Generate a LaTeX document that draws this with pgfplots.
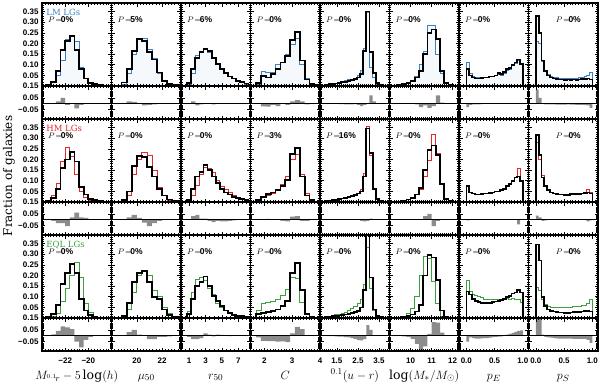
\documentclass[border=0pt]{standalone}
\usepackage{fontspec}
\setmainfont{DejaVu Serif}
\newfontfamily\tickfamily{Liberation Sans}
\usepackage{pgfplots}
\pgfplotsset{compat=1.18}
\usepackage{pgfplotstable}

\definecolor{lmblue}{RGB}{60,130,200}
\definecolor{hmred}{RGB}{230,40,40}
\definecolor{eqlgreen}{RGB}{60,160,60}
\definecolor{resgray}{RGB}{140,140,140}

\newcommand\tickfont{\tickfamily\bfseries\fontsize{8}{9}\selectfont}
\newcommand\lgfont{\fontsize{8.5}{9}\selectfont}
\newcommand\plabel[1]{{\fontsize{8.5}{9}\selectfont$P\!=\!${\tickfamily\bfseries #1\%}}}
\def\plx{0.086}

% columns: x b1 c1 r1 b2 c2 r2 b3 c3 r3  (b = black, c = coloured LG sample, r = residual)
\pgfplotstableread{
x b1 c1 r1 b2 c2 r2 b3 c3 r3
-23.6 0 0 0 0 0 0 0 0 0
-23.6 0.005 0.005 0 0.005 0.005 0 0.005 0.002 0.003
-23.2 0.02 0.015 0.005 0.02 0.03 -0.01 0.02 0.008 0.012
-22.8 0.07 0.05 0.02 0.06 0.09 -0.03 0.06 0.02 0.04
-22.4 0.17 0.12 0.05 0.16 0.19 -0.03 0.16 0.08 0.08
-22.0 0.21 0.22 -0.01 0.20 0.255 -0.055 0.21 0.14 0.07
-21.6 0.235 0.235 0 0.235 0.215 0.02 0.255 0.20 0.055
-21.2 0.17 0.21 -0.04 0.19 0.13 0.06 0.21 0.26 -0.05
-20.8 0.08 0.09 -0.01 0.07 0.05 0.02 0.09 0.19 -0.10
-20.4 0.035 0.035 0 0.035 0.02 0.015 0.035 0.07 -0.035
-20.0 0.015 0.012 0.003 0.015 0.01 0.005 0.015 0.025 -0.01
-19.6 0.008 0.006 0.002 0.008 0.005 0.003 0.006 0.008 -0.002
-19.2 0.004 0.003 0.001 0.004 0.002 0.002 0.003 0.003 0
-18.8 0 0 0 0 0 0 0 0 0
}\tabA
\pgfplotstableread{
x b1 c1 r1 b2 c2 r2 b3 c3 r3
18.8 0 0 0 0 0 0 0 0 0
18.8 0.016 0.01 0.006 0.01 0.005 0.005 0.01 0.005 0.005
19.2 0.08 0.06 0.02 0.05 0.03 0.02 0.07 0.04 0.03
19.6 0.165 0.15 0.015 0.17 0.13 0.04 0.17 0.12 0.05
20.0 0.22 0.22 0 0.215 0.2 0.015 0.21 0.20 0.01
20.4 0.21 0.225 -0.015 0.21 0.235 -0.025 0.22 0.22 0
20.8 0.16 0.17 -0.01 0.165 0.22 -0.055 0.17 0.20 -0.03
21.2 0.125 0.13 -0.005 0.12 0.15 -0.03 0.10 0.13 -0.03
21.6 0.063 0.06 0.003 0.06 0.07 -0.01 0.09 0.10 -0.01
22.0 0.025 0.025 0 0.03 0.03 0 0.04 0.05 -0.01
22.4 0.011 0.01 0.001 0.012 0.01 0.002 0.015 0.02 -0.005
22.8 0.005 0.004 0.001 0.005 0.004 0.001 0.005 0.006 -0.001
23.2 0 0 0 0 0 0 0 0 0
}\tabB
\pgfplotstableread{
x b1 c1 r1 b2 c2 r2 b3 c3 r3
0.75 0 0 0 0 0 0 0 0 0
0.75 0.015 0.01 0.005 0.01 0.005 0.005 0.02 0.03 -0.01
1.25 0.08 0.06 0.02 0.06 0.03 0.03 0.09 0.12 -0.03
1.75 0.13 0.145 -0.015 0.12 0.08 0.04 0.15 0.18 -0.03
2.25 0.16 0.165 -0.005 0.14 0.13 0.01 0.17 0.19 -0.02
2.75 0.175 0.17 0.005 0.175 0.165 0.01 0.195 0.175 0.02
3.25 0.165 0.16 0.005 0.15 0.16 -0.01 0.15 0.14 0.01
3.75 0.13 0.135 -0.005 0.12 0.14 -0.02 0.105 0.11 -0.005
4.25 0.105 0.105 0 0.09 0.10 -0.01 0.08 0.07 0.01
4.75 0.08 0.08 0 0.06 0.075 -0.015 0.057 0.05 0.007
5.25 0.06 0.06 0 0.045 0.06 -0.015 0.035 0.035 0
5.75 0.045 0.045 0 0.035 0.045 -0.01 0.022 0.025 -0.003
6.25 0.035 0.035 0 0.025 0.03 -0.005 0.015 0.015 0
6.75 0.025 0.022 0.003 0.02 0.02 0 0.01 0.01 0
7.25 0.018 0.015 0.003 0.013 0.012 0.001 0.008 0.008 0
7.75 0.012 0.01 0.002 0.008 0.008 0 0.005 0.004 0.001
8.25 0 0 0 0 0 0 0 0 0
}\tabC
\pgfplotstableread{
x b1 c1 r1 b2 c2 r2 b3 c3 r3
1.7 0 0 0 0 0 0 0 0 0
1.7 0.015 0.01 0.005 0.01 0.008 0.002 0.02 0.035 -0.015
1.875 0.048 0.07 -0.022 0.025 0.02 0.005 0.025 0.07 -0.045
2.05 0.04 0.065 -0.025 0.036 0.03 0.006 0.028 0.075 -0.047
2.225 0.055 0.065 -0.01 0.045 0.04 0.005 0.033 0.08 -0.047
2.4 0.08 0.1 -0.02 0.055 0.055 0 0.04 0.09 -0.05
2.575 0.11 0.11 0 0.075 0.085 -0.01 0.057 0.105 -0.048
2.75 0.14 0.15 -0.01 0.105 0.12 -0.015 0.08 0.135 -0.055
2.925 0.215 0.195 0.02 0.225 0.2 0.025 0.21 0.19 0.02
3.1 0.255 0.225 0.03 0.255 0.225 0.03 0.26 0.185 0.075
3.275 0.12 0.1 0.02 0.12 0.13 -0.01 0.13 0.075 0.055
3.45 0.03 0.035 -0.005 0.03 0.04 -0.01 0.02 0.015 0.005
3.625 0.01 0.01 0 0.008 0.01 -0.002 0.005 0.005 0
3.8 0.004 0.004 0 0.003 0.003 0 0.002 0.002 0
3.975 0 0 0 0 0 0 0 0 0
}\tabD
\pgfplotstableread{
x b1 c1 r1 b2 c2 r2 b3 c3 r3
0.8 0 0 0 0 0 0 0 0 0
0.8 0.003 0.003 0 0.003 0.003 0 0.002 0.003 -0.001
0.95 0.006 0.005 0.001 0.005 0.005 0 0.004 0.006 -0.002
1.1 0.008 0.008 0 0.007 0.007 0 0.006 0.009 -0.003
1.25 0.01 0.012 -0.002 0.009 0.009 0 0.008 0.012 -0.004
1.4 0.012 0.014 -0.002 0.011 0.012 -0.001 0.01 0.015 -0.005
1.55 0.015 0.018 -0.003 0.014 0.015 -0.001 0.012 0.019 -0.007
1.7 0.018 0.022 -0.004 0.017 0.018 -0.001 0.014 0.023 -0.009
1.85 0.02 0.026 -0.006 0.02 0.021 -0.001 0.016 0.028 -0.012
2.0 0.024 0.03 -0.006 0.024 0.025 -0.001 0.02 0.035 -0.015
2.15 0.028 0.033 -0.005 0.028 0.029 -0.001 0.024 0.045 -0.021
2.3 0.032 0.036 -0.004 0.032 0.033 -0.001 0.028 0.055 -0.027
2.45 0.04 0.05 -0.01 0.04 0.042 -0.002 0.033 0.07 -0.037
2.6 0.055 0.075 -0.02 0.05 0.06 -0.01 0.05 0.09 -0.04
2.75 0.165 0.175 -0.01 0.12 0.135 -0.015 0.13 0.16 -0.03
2.9 0.35 0.345 0.005 0.345 0.355 -0.01 0.42 0.33 0.09
3.05 0.16 0.09 0.07 0.23 0.22 0.01 0.19 0.14 0.05
3.2 0.06 0.04 0.02 0.06 0.06 0 0.04 0.035 0.005
3.35 0.015 0.01 0.005 0.015 0.015 0 0.01 0.008 0.002
3.5 0.005 0.004 0.001 0.005 0.004 0.001 0.004 0.003 0.001
3.65 0.002 0.002 0 0.002 0.002 0 0.002 0.001 0.001
3.8 0 0 0 0 0 0 0 0 0
}\tabE
\pgfplotstableread{
x b1 c1 r1 b2 c2 r2 b3 c3 r3
9.4 0 0 0 0 0 0 0 0 0
9.4 0.004 0.004 0 0.003 0.003 0 0.002 0.004 -0.002
9.6 0.008 0.008 0 0.007 0.007 0 0.005 0.01 -0.005
9.8 0.015 0.015 0 0.012 0.012 0 0.01 0.02 -0.01
10.0 0.025 0.025 0 0.02 0.02 0 0.017 0.045 -0.028
10.2 0.04 0.045 -0.005 0.035 0.035 0 0.03 0.1 -0.07
10.4 0.07 0.1 -0.03 0.065 0.06 0.005 0.06 0.2 -0.14
10.6 0.15 0.165 -0.015 0.15 0.12 0.03 0.2 0.29 -0.09
10.8 0.25 0.285 -0.035 0.245 0.195 0.05 0.295 0.28 0.015
11.0 0.265 0.285 -0.02 0.265 0.32 -0.055 0.285 0.17 0.115
11.2 0.22 0.15 0.07 0.22 0.23 -0.01 0.18 0.07 0.11
11.4 0.07 0.06 0.01 0.085 0.085 0 0.035 0.01 0.025
11.6 0.015 0.012 0.003 0.015 0.015 0 0.006 0.002 0.004
11.8 0.004 0.003 0.001 0.004 0.003 0.001 0.002 0.001 0.001
12.0 0 0 0 0 0 0 0 0 0
}\tabF
\pgfplotstableread{
x b1 c1 r1 b2 c2 r2 b3 c3 r3
0 0 0 0 0 0 0 0 0 0
0 0.08 0.11 -0.03 0.075 0.08 -0.005 0.125 0.175 -0.05
0.05 0.05 0.06 -0.01 0.045 0.045 0 0.11 0.125 -0.015
0.1 0.04 0.045 -0.005 0.04 0.04 0 0.09 0.11 -0.02
0.15 0.035 0.04 -0.005 0.035 0.035 0 0.08 0.105 -0.025
0.2 0.035 0.04 -0.005 0.035 0.037 -0.002 0.075 0.1 -0.025
0.25 0.037 0.04 -0.003 0.037 0.037 0 0.072 0.095 -0.023
0.3 0.04 0.042 -0.002 0.04 0.04 0 0.07 0.09 -0.02
0.35 0.04 0.042 -0.002 0.04 0.04 0 0.07 0.09 -0.02
0.4 0.045 0.045 0 0.042 0.042 0 0.072 0.088 -0.016
0.45 0.045 0.045 0 0.045 0.045 0 0.075 0.088 -0.013
0.5 0.05 0.048 0.002 0.05 0.048 0.002 0.078 0.088 -0.01
0.55 0.06 0.055 0.005 0.05 0.05 0 0.08 0.088 -0.008
0.6 0.055 0.05 0.005 0.055 0.055 0 0.085 0.09 -0.005
0.65 0.065 0.06 0.005 0.06 0.06 0 0.09 0.09 0
0.7 0.08 0.075 0.005 0.075 0.072 0.003 0.1 0.092 0.008
0.75 0.085 0.08 0.005 0.085 0.085 0 0.105 0.09 0.015
0.8 0.1 0.095 0.005 0.1 0.1 0 0.115 0.092 0.023
0.85 0.11 0.105 0.005 0.115 0.115 0 0.12 0.088 0.032
0.9 0.125 0.12 0.005 0.12 0.16 -0.04 0.13 0.09 0.04
0.95 0.105 0.1 0.005 0.1 0.1 0 0.12 0.075 0.045
1.0 0 0 0 0 0 0 0 0 0
}\tabG
\pgfplotstableread{
x b1 c1 r1 b2 c2 r2 b3 c3 r3
0 0 0 0 0 0 0 0 0 0
0 0.33 0.21 0.12 0.315 0.28 0.035 0.345 0.145 0.2
0.05 0.25 0.2 0.05 0.22 0.2 0.02 0.27 0.13 0.14
0.1 0.12 0.115 0.005 0.115 0.125 -0.01 0.1 0.09 0.01
0.15 0.07 0.075 -0.005 0.075 0.08 -0.005 0.055 0.065 -0.01
0.2 0.05 0.055 -0.005 0.055 0.055 0 0.04 0.055 -0.015
0.25 0.04 0.045 -0.005 0.045 0.045 0 0.033 0.05 -0.017
0.3 0.035 0.04 -0.005 0.04 0.04 0 0.03 0.05 -0.02
0.35 0.033 0.04 -0.007 0.037 0.037 0 0.028 0.05 -0.022
0.4 0.03 0.038 -0.008 0.035 0.035 0 0.026 0.05 -0.024
0.45 0.03 0.037 -0.007 0.035 0.035 0 0.026 0.05 -0.024
0.5 0.028 0.036 -0.008 0.034 0.034 0 0.025 0.05 -0.025
0.55 0.03 0.036 -0.006 0.034 0.034 0 0.025 0.05 -0.025
0.6 0.028 0.036 -0.008 0.036 0.036 0 0.026 0.05 -0.024
0.65 0.03 0.038 -0.008 0.036 0.036 0 0.027 0.055 -0.028
0.7 0.028 0.038 -0.01 0.037 0.038 -0.001 0.028 0.055 -0.027
0.75 0.03 0.04 -0.01 0.038 0.04 -0.002 0.028 0.055 -0.027
0.8 0.032 0.042 -0.01 0.04 0.042 -0.002 0.03 0.058 -0.028
0.85 0.032 0.045 -0.013 0.042 0.045 -0.003 0.032 0.058 -0.026
0.9 0.035 0.05 -0.015 0.045 0.06 -0.015 0.034 0.07 -0.036
0.95 0.03 0.065 -0.035 0.04 0.045 -0.005 0.03 0.09 -0.06
1.0 0 0 0 0 0 0 0 0 0
}\tabH

\pgfplotsset{
  base/.style={scale only axis, width=69.5pt, anchor=north west, axis on top,
    tick align=inside, major tick length=3.5pt, minor tick length=1.8pt,
    axis line style={line width=1.1pt},
    major tick style={black,line width=0.5pt}, minor tick style={black,line width=0.4pt},
    xticklabels={}, yticklabels={}, tick label style={font=\tickfont},
    xticklabel style={yshift=-3pt},
    x label style={at={(axis description cs:0.5,0)},anchor=base,yshift=-28pt,font=\fontsize{12.5}{14}\selectfont}},
  hist/.style={base, height=83pt, ymin=0, ymax=0.39,
    ytick={0.05,0.1,0.15,0.2,0.25,0.3,0.35}, minor ytick={0,0.01,...,0.39}},
  res/.style={base, height=33pt, ymin=-0.13, ymax=0.15,
    ytick={-0.05,0.05,0.15}, minor ytick={-0.13,-0.12,...,0.15},
    extra y ticks={0}, extra y tick labels={},
    extra y tick style={grid=major, major grid style={black,line width=0.7pt}, tick style={draw=none}}},
  histY/.style={yticklabels={0.05,0.10,0.15,0.20,0.25,0.30,0.35}},
  resY/.style={yticklabels={−0.05,0.05,0.15}},
  row1/.style={draw=lmblue, fill=lmblue!5},
  row2/.style={draw=hmred},
  row3/.style={draw=eqlgreen},
  lgLM/.style={extra description/.code={\node[anchor=west,inner sep=0pt,text=lmblue,font=\lgfont] at (0.06,0.885) {LM LGs};}},
  lgHM/.style={extra description/.code={\node[anchor=west,inner sep=0pt,text=hmred,font=\lgfont] at (0.06,0.885) {HM LGs};}},
  lgEQ/.style={extra description/.code={\node[anchor=west,inner sep=0pt,text=eqlgreen,font=\lgfont] at (0.06,0.885) {EQL LGs};}},
  colA/.style={xmin=-24,xmax=-18,xtick={-22,-20},minor xtick={-24,-23.75,...,-18}},
  colAlab/.style={xticklabels={−22,−20},xlabel={$M_{^{0.1}\!r}-5\log(h)$}},
  colB/.style={xmin=18,xmax=23.5,xtick={20,22},minor xtick={18,18.25,...,23.5}},
  colBlab/.style={xticklabels={20,22},xlabel={$\mu_{50}$}},
  colC/.style={xmin=0,xmax=8.5,xtick={1,3,5,7},minor xtick={0,0.5,...,8.5}},
  colClab/.style={xticklabels={1,3,5,7},xlabel={$r_{50}$}},
  colD/.style={xmin=1.5,xmax=4,xtick={2,3,4},minor xtick={1.5,1.6,...,4}},
  colDlab/.style={xticklabels={2,3,4},xlabel={$C$}},
  colE/.style={xmin=0.7,xmax=4,xtick={1.5,2.5,3.5},minor xtick={0.7,0.8,...,4}},
  colElab/.style={xticklabels={1.5,2.5,3.5},xlabel={${}^{0.1}(u-r)$}},
  colF/.style={xmin=9,xmax=12.3,xtick={10,11,12},minor xtick={9,9.1,...,12.3}},
  colFlab/.style={xticklabels={10,11,12},xlabel={$\log(M_*/M_\odot)$}},
  colG/.style={xmin=-0.13,xmax=1.1,xtick={0,0.5,1},minor xtick={-0.1,-0.05,...,1.1}},
  colGlab/.style={xticklabels={0.0,0.5,1.0},xlabel={$p_E$}},
  colH/.style={xmin=-0.13,xmax=1.1,xtick={0,0.5,1},minor xtick={-0.1,-0.05,...,1.1}},
  colHlab/.style={xticklabels={0.0,0.5,1.0},xlabel={$p_S$}},
}

% #1 x, #2 y (top), #3 column style, #4 table, #5 row, #6 P value, #7 hist extra, #8 residual extra
\newcommand{\panel}[8]{%
  \begin{axis}[hist,#3,at={(#1pt,#2pt)},#7]
    \addplot[const plot,row#5,line width=0.7pt] table[x=x,y=c#5]{#4};
    \addplot[const plot,black,line width=1.7pt] table[x=x,y=b#5]{#4};
    \node[anchor=west,inner sep=0pt] at (rel axis cs:\plx,0.795) {\plabel{#6}};
  \end{axis}
  \begin{axis}[res,#3,at={(#1pt,#2pt-83pt)},#8]
    \addplot[const plot,fill=resgray,draw=none] table[x=x,y=r#5]{#4} \closedcycle;
  \end{axis}}

\begin{document}
\begin{tikzpicture}
\useasboundingbox (0,0) rectangle (600pt,-384pt);
\node[rotate=90,font=\fontsize{12}{14}\selectfont] at (9pt,-176pt) {Fraction of galaxies};
% row 1
\panel{42}{-3}{colA}{\tabA}{1}{0}{histY,lgLM}{resY}
\panel{111.5}{-3}{colB}{\tabB}{1}{5}{}{}
\panel{181}{-3}{colC}{\tabC}{1}{6}{}{}
\panel{250.5}{-3}{colD}{\tabD}{1}{0}{}{}
\panel{320}{-3}{colE}{\tabE}{1}{0}{}{}
\panel{389.5}{-3}{colF}{\tabF}{1}{0}{}{}
\panel{459}{-3}{colG}{\tabG}{1}{0}{}{}
\def\plx{0.39}
\panel{528.5}{-3}{colH}{\tabH}{1}{0}{}{}
\def\plx{0.086}
% row 2
\panel{42}{-119}{colA}{\tabA}{2}{0}{histY,lgHM}{resY}
\panel{111.5}{-119}{colB}{\tabB}{2}{0}{}{}
\panel{181}{-119}{colC}{\tabC}{2}{0}{}{}
\panel{250.5}{-119}{colD}{\tabD}{2}{3}{}{}
\panel{320}{-119}{colE}{\tabE}{2}{16}{}{}
\panel{389.5}{-119}{colF}{\tabF}{2}{0}{}{}
\panel{459}{-119}{colG}{\tabG}{2}{0}{}{}
\def\plx{0.39}
\panel{528.5}{-119}{colH}{\tabH}{2}{0}{}{}
\def\plx{0.086}
% row 3
\panel{42}{-235}{colA}{\tabA}{3}{0}{histY,lgEQ}{resY,colAlab}
\panel{111.5}{-235}{colB}{\tabB}{3}{0}{}{colBlab}
\panel{181}{-235}{colC}{\tabC}{3}{0}{}{colClab}
\panel{250.5}{-235}{colD}{\tabD}{3}{0}{}{colDlab}
\panel{320}{-235}{colE}{\tabE}{3}{0}{}{colElab}
\panel{389.5}{-235}{colF}{\tabF}{3}{0}{}{colFlab}
\panel{459}{-235}{colG}{\tabG}{3}{0}{}{colGlab}
\def\plx{0.39}
\panel{528.5}{-235}{colH}{\tabH}{3}{0}{}{colHlab}
\end{tikzpicture}
\end{document}
